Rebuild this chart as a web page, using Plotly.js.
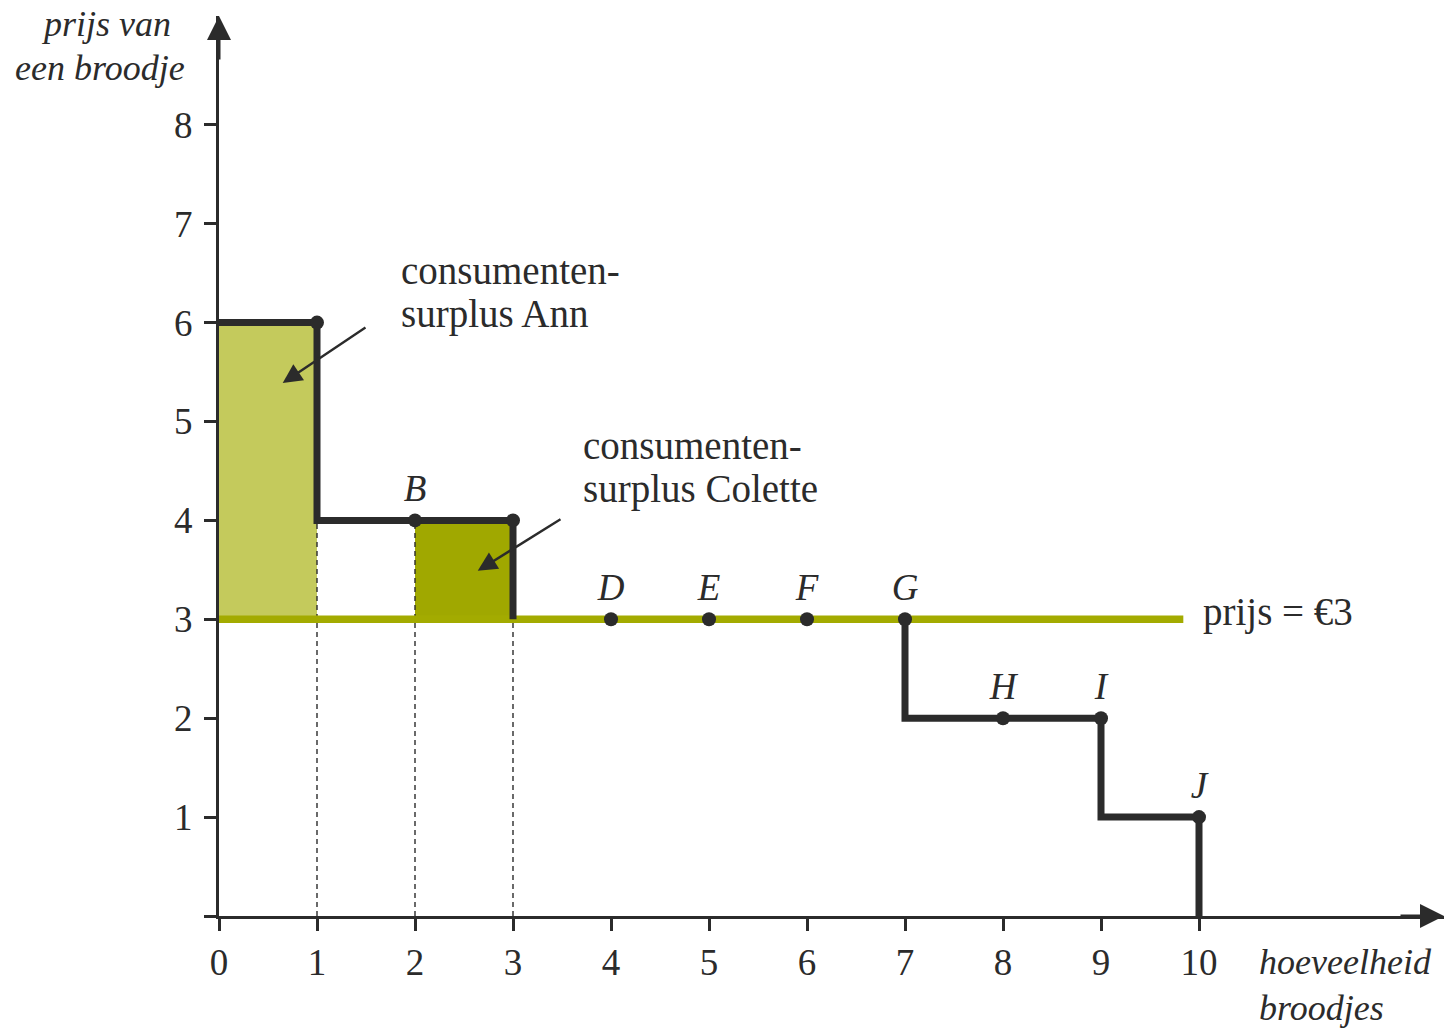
<!DOCTYPE html>
<html>
<head>
<meta charset="utf-8">
<script src="https://cdn.plot.ly/plotly-3.0.1.min.js"></script>
<style>html,body{margin:0;padding:0;background:#fff;}#chart{width:1453px;height:1031px;}</style>
</head>
<body>
<div id="chart"></div>
<script>
// ---- data ----
const quantity    = [1, 2, 3, 4, 5, 6, 7, 8, 9, 10];
const willingness = [6, 4, 4, 3, 3, 3, 3, 2, 2, 1];
const pointLabels = ['', 'B', '', 'D', 'E', 'F', 'G', 'H', 'I', 'J'];
const price = 3;
const priceLineEnd = 9.84;
const xTicks = [0, 1, 2, 3, 4, 5, 6, 7, 8, 9, 10];
const yTicks = [0, 1, 2, 3, 4, 5, 6, 7, 8];
const yTickText = ['', '1', '2', '3', '4', '5', '6', '7', '8'];
const surplusBuyers = [0, 2];   // indexes of Ann and Colette

// ---- styles ----
const INK = '#2b2b2b';
const LIGHT = '#c4ca5c';
const DARK = '#a0a800';
const PRICE = '#a3ab00';
const FONT = 'Liberation Serif, Times New Roman, serif';

// staircase (demand curve), broken where it runs along the price line
const sx = [0], sy = [willingness[0]];
for (let i = 0; i < quantity.length; i++) {
  if (willingness[i] === price) { sx.push(null); sy.push(null); sx.push(quantity[i]); sy.push(willingness[i]); }
  else { sx.push(quantity[i]); sy.push(willingness[i]); }
  sx.push(quantity[i]); sy.push(i < quantity.length - 1 ? willingness[i + 1] : 0);
}

const traces = [
  { x: [0, priceLineEnd], y: [price, price], mode: 'lines',
    line: { color: PRICE, width: 7.5 }, hoverinfo: 'skip' },
  { x: sx, y: sy, mode: 'lines', connectgaps: false,
    line: { color: INK, width: 7 }, hoverinfo: 'skip' },
  { x: quantity, y: willingness, mode: 'markers+text',
    text: pointLabels.map(t => t ? '<i>' + t + '</i>' : ''),
    textposition: 'top center', cliponaxis: false,
    textfont: { family: FONT, size: 37, color: INK },
    marker: { color: INK, size: 14 }, hoverinfo: 'skip' }
];

const shapes = [];
surplusBuyers.forEach((i, k) => {
  shapes.push({ type: 'rect', layer: 'below', xref: 'x', yref: 'y',
    x0: i === 0 ? 0 : quantity[i - 1], x1: quantity[i], y0: price, y1: willingness[i],
    fillcolor: k === 0 ? LIGHT : DARK, line: { width: 0 } });
});
[1, 2, 3].forEach(q => {
  shapes.push({ type: 'line', layer: 'below', xref: 'x', yref: 'y',
    x0: quantity[q - 1], x1: quantity[q - 1], y0: 0, y1: Math.min(willingness[q - 1], 4),
    line: { color: INK, width: 1.4, dash: '5px,4px' } });
});

// paper coordinates helpers for text placement
const PL = 219, PW = 1225, PT = 16, PH = 900;
const px = v => (v - PL) / PW;
const py = v => (PT + PH - v) / PH;

const label = (text, x, y, anchor, size, italic) => ({
  x: px(x), y: py(y), xref: 'paper', yref: 'paper', showarrow: false,
  xanchor: anchor, yanchor: 'middle', text: italic ? '<i>' + text + '</i>' : text,
  font: { family: FONT, size: size, color: INK } });

const annotations = [
  // axis arrows
  { x: 12.5, y: 0, ax: -45, ay: 0, xref: 'x', yref: 'y', showarrow: true, arrowhead: 2,
    arrowsize: 1.6, arrowwidth: 3, arrowcolor: INK, text: '' },
  { x: 0, y: 9.1, ax: 0, ay: 45, xref: 'x', yref: 'y', showarrow: true, arrowhead: 2,
    arrowsize: 1.6, arrowwidth: 3, arrowcolor: INK, text: '' },
  // axis titles
  label('prijs van', 106, 24, 'center', 36, true),
  label('een broodje', 100, 68, 'center', 36, true),
  label('hoeveelheid', 1257, 962, 'left', 36, true),
  label('broodjes', 1257, 1008, 'left', 36, true),
  // surplus labels
  label('consumenten-', 399, 270, 'left', 39, false),
  label('surplus Ann', 399, 314, 'left', 39, false),
  label('consumenten-', 581, 445, 'left', 39, false),
  label('surplus Colette', 581, 489, 'left', 39, false),
  // price label
  label('prijs = €' + price, 1201, 612, 'left', 39, false),
  // surplus arrows
  { x: 0.65, y: 5.39, ax: 1.51, ay: 5.96, axref: 'x', ayref: 'y', xref: 'x', yref: 'y',
    showarrow: true, arrowhead: 2, arrowsize: 1.6, arrowwidth: 2.4, arrowcolor: INK, text: '' },
  { x: 2.64, y: 3.49, ax: 3.50, ay: 4.02, axref: 'x', ayref: 'y', xref: 'x', yref: 'y',
    showarrow: true, arrowhead: 2, arrowsize: 1.6, arrowwidth: 2.4, arrowcolor: INK, text: '' }
];

const layout = {
  width: 1453, height: 1031,
  margin: { l: PL, r: 1453 - PL - PW, t: PT, b: 1031 - PT - PH },
  paper_bgcolor: '#fff', plot_bgcolor: '#fff',
  showlegend: false,
  xaxis: { range: [0, 12.5], showgrid: false, zeroline: false, showline: true,
    linecolor: INK, linewidth: 3, ticks: 'outside', ticklen: 12, tickwidth: 3, tickcolor: INK,
    tickvals: xTicks, ticktext: xTicks.map(String), ticklabelstandoff: 0,
    tickfont: { family: FONT, size: 37, color: INK }, fixedrange: true },
  yaxis: { range: [0, 9.1], showgrid: false, zeroline: false, showline: true,
    linecolor: INK, linewidth: 3, ticks: 'outside', ticklen: 12, tickwidth: 3, tickcolor: INK,
    tickvals: yTicks, ticktext: yTickText, ticklabelstandoff: 4,
    tickfont: { family: FONT, size: 37, color: INK }, fixedrange: true },
  shapes: shapes,
  annotations: annotations
};

Plotly.newPlot('chart', traces, layout, { staticPlot: true });
</script>
</body>
</html>
